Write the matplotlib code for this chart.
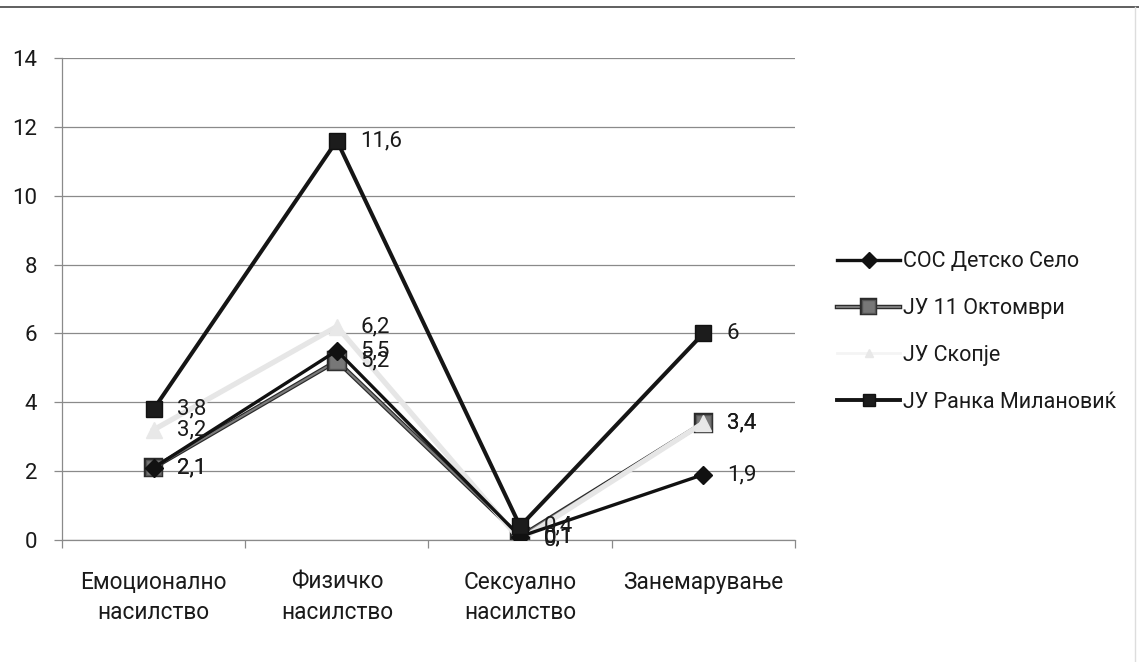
import numpy as np
import matplotlib
matplotlib.use("Agg")
import matplotlib.pyplot as plt
import matplotlib.patheffects as pe
from matplotlib.lines import Line2D

plt.rcParams['font.family'] = ['Roboto', 'DejaVu Sans']

categories = ["Емоционално\nнасилство", "Физичко\nнасилство",
              "Сексуално\nнасилство", "Занемарување"]

sos_detsko_selo = [2.1, 5.5, 0.1, 1.9]
ju_11_oktomvri = [2.1, 5.2, 0.1, 3.4]
ju_skopje = [3.2, 6.2, 0.0, 3.4]
ju_ranka_milanovik = [3.8, 11.6, 0.4, 6.0]

series_names = ["СОС Детско Село", "ЈУ 11 Октомври", "ЈУ Скопје", "ЈУ Ранка Милановиќ"]

yticks = [0, 2, 4, 6, 8, 10, 12, 14]


def fmt(v):
    s = f"{v:.1f}".rstrip("0").rstrip(".")
    return s.replace(".", ",")


TEXT = "#1a1a1a"
AXIS = "#8a8a8a"

fig = plt.figure(figsize=(11.39, 6.62), dpi=100)
ax = fig.add_axes([62 / 1139, 1 - 540 / 662, 733 / 1139, 482 / 662])

x = np.arange(len(categories))

# axes, gridlines and ticks
ax.set_ylim(0, 14)
ax.set_xlim(-0.5, len(categories) - 0.5)
ax.set_yticks(yticks)
ax.yaxis.grid(True, color=AXIS, linewidth=0.9)
ax.set_axisbelow(True)
for s in ["top", "right"]:
    ax.spines[s].set_visible(False)
for s in ["left", "bottom"]:
    ax.spines[s].set_color(AXIS)
    ax.spines[s].set_linewidth(0.9)

ax.set_xticks(x)
ax.set_xticklabels(categories, fontsize=16.3, color=TEXT, linespacing=1.4)
ax.tick_params(axis="x", which="major", length=0, pad=22)
ax.set_xticks(np.arange(-0.5, len(categories), 1.0), minor=True)
ax.tick_params(axis="x", which="minor", length=6, color=AXIS, width=0.9)
ax.tick_params(axis="y", length=6, color=AXIS, width=0.9, labelsize=16,
               labelcolor=TEXT, pad=12)

# series
l_sos, = ax.plot(x, sos_detsko_selo, color="#111111", lw=2.4, marker="D",
                 markersize=9, markerfacecolor="#111111", markeredgecolor="#111111",
                 zorder=4)
l_11, = ax.plot(x, ju_11_oktomvri, color="#7a7a7a", lw=1.5, marker="s",
                markersize=11, markerfacecolor="#777777", markeredgecolor="#555555",
                zorder=3,
                path_effects=[pe.Stroke(linewidth=3.2, foreground="#2a2a2a"), pe.Normal()])
l_sk, = ax.plot(x, ju_skopje, color="#e6e6e6", lw=3.8, marker="^",
                markersize=11, markerfacecolor="#e8e8e8", markeredgecolor="#e8e8e8",
                zorder=3.5)
l_rm, = ax.plot(x, ju_ranka_milanovik, color="#151515", lw=2.9, marker="s",
                markersize=11.5, markerfacecolor="#1c1c1c", markeredgecolor="#111111",
                zorder=5)

# data labels
label_series = [ju_ranka_milanovik, ju_skopje, sos_detsko_selo, ju_11_oktomvri]
for vals in label_series:
    for xi, v in zip(x, vals):
        ax.annotate(fmt(v), (xi, v), xytext=(17, 0), textcoords="offset points",
                    ha="left", va="center", fontsize=16, color=TEXT, zorder=6)

# legend
handles = [
    Line2D([], [], color="#111111", lw=2.4, marker="D", markersize=8,
           markerfacecolor="#111111", markeredgecolor="#111111"),
    Line2D([], [], color="#7a7a7a", lw=1.5, marker="s", markersize=9,
           markerfacecolor="#777777", markeredgecolor="#555555",
           path_effects=[pe.Stroke(linewidth=3.2, foreground="#2a2a2a"), pe.Normal()]),
    Line2D([], [], color="#f4f4f4", lw=2, marker="^", markersize=6,
           markerfacecolor="#e8e8e8", markeredgecolor="#e8e8e8"),
    Line2D([], [], color="#151515", lw=2.8, marker="s", markersize=9,
           markerfacecolor="#1c1c1c", markeredgecolor="#111111"),
]
fig.legend(handles, series_names, loc="center left",
           bbox_to_anchor=(818 / 1139, 1 - 332 / 662), frameon=False,
           fontsize=15.5, handlelength=2.9, handletextpad=0.15, labelspacing=1.2,
           labelcolor=TEXT)

# page rules
fig.add_artist(Line2D([0.0, 1.0], [1 - 7 / 662, 1 - 7 / 662], color="#444444",
                      lw=1.2, transform=fig.transFigure))
fig.add_artist(Line2D([1 - 4 / 1139, 1 - 4 / 1139], [0.0, 1 - 7 / 662],
                      color="#dddddd", lw=1.0, transform=fig.transFigure))

fig.savefig("out.png", dpi=100, facecolor="white")
